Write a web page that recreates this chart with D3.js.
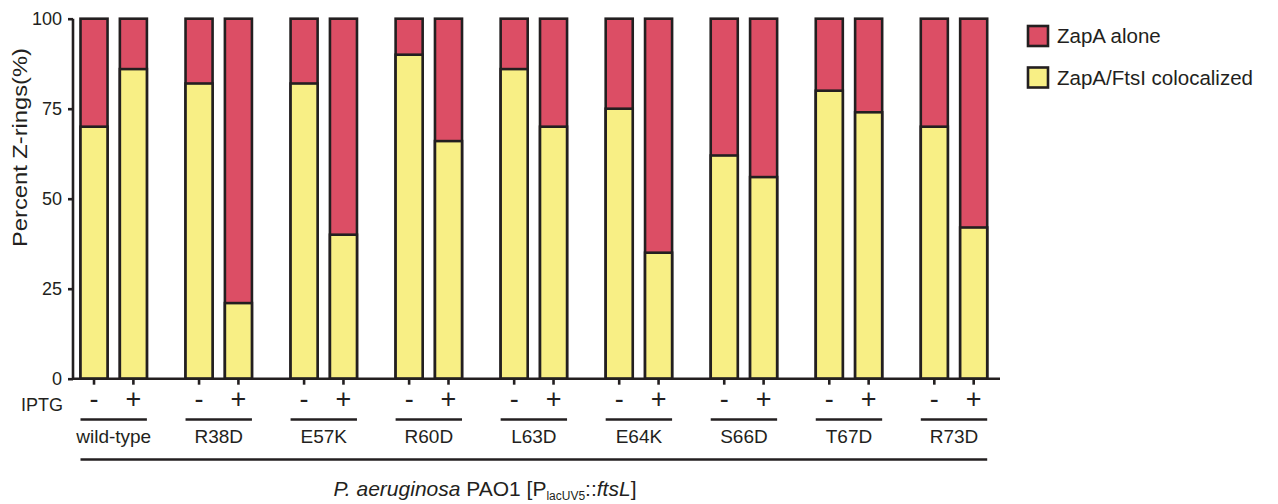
<!DOCTYPE html>
<html>
<head>
<meta charset="utf-8">
<script src="https://cdn.jsdelivr.net/npm/d3@7"></script>
<style>
  body { margin: 0; background: #fff; }
  text { font-family: "Liberation Sans", Arial, sans-serif; fill: #231f20; }
</style>
</head>
<body>
<div id="chart"></div>
<script>
// strains and IPTG conditions
var strains = ["wild-type", "R38D", "E57K", "R60D", "L63D", "E64K", "S66D", "T67D", "R73D"];
var iptg = ["-", "+"];

// percent ZapA/FtsI colocalized, [-IPTG, +IPTG] per strain
var colocMinus = [70, 82, 82, 90, 86, 75, 62, 80, 70];
var colocPlus = [86, 21, 40, 66, 70, 35, 56, 74, 42];

var yTicks = [0, 25, 50, 75, 100];
var seriesNames = ["ZapA alone", "ZapA/FtsI colocalized"];

var width = 1278, height = 504;
var ink = "#231f20";
var red = "#dc4e65", yellow = "#f8ef85";
var sw = 2.6;

var svg = d3.select("#chart").append("svg")
  .attr("width", width)
  .attr("height", height);

// scales
var y = d3.scaleLinear().domain([0, 100]).range([378.7, 18.7]);
var xGroup = d3.scalePoint().domain(strains).range([113.7, 954]);
var xSub = d3.scaleBand().domain(iptg).range([-33.2, 33.2]).paddingInner(0.313).paddingOuter(0);

// build rows
var rows = [];
strains.forEach(function(s, i) {
  rows.push({strain: s, cond: "-", coloc: colocMinus[i]});
  rows.push({strain: s, cond: "+", coloc: colocPlus[i]});
});

var bars = svg.append("g").selectAll("g")
  .data(rows)
  .enter()
  .append("g")
  .attr("transform", function(d) {
    return "translate(" + (xGroup(d.strain) + xSub(d.cond)) + ",0)";
  });

// red part (full bar 0..100), yellow on top of it from 0..coloc
bars.append("rect")
  .attr("x", 0)
  .attr("width", xSub.bandwidth())
  .attr("y", y(100))
  .attr("height", y(0) - y(100))
  .attr("fill", red)
  .attr("stroke", ink)
  .attr("stroke-width", sw);

bars.append("rect")
  .attr("x", 0)
  .attr("width", xSub.bandwidth())
  .attr("y", function(d) { return y(d.coloc); })
  .attr("height", function(d) { return y(0) - y(d.coloc); })
  .attr("fill", yellow)
  .attr("stroke", ink)
  .attr("stroke-width", sw);

// y axis
var yAxis = svg.append("g")
  .attr("transform", "translate(73,0)")
  .call(d3.axisLeft(y).tickValues(yTicks).tickSize(5).tickPadding(6).tickSizeOuter(0));
yAxis.select(".domain").attr("stroke", ink).attr("stroke-width", sw)
  .attr("d", "M0," + y(100) + "V" + y(0));
yAxis.selectAll(".tick line").attr("stroke", ink).attr("stroke-width", sw);
yAxis.selectAll(".tick text")
  .attr("font-size", "18px")
  .attr("font-family", "Liberation Sans, Arial, sans-serif")
  .attr("fill", ink)
  .attr("dy", "0.34em");

// x axis baseline
svg.append("line")
  .attr("x1", 73).attr("x2", 1000)
  .attr("y1", y(0)).attr("y2", y(0))
  .attr("stroke", ink).attr("stroke-width", sw);

// small ticks under each bar
bars.append("line")
  .attr("x1", xSub.bandwidth() / 2).attr("x2", xSub.bandwidth() / 2)
  .attr("y1", y(0)).attr("y2", y(0) + 6)
  .attr("stroke", ink).attr("stroke-width", sw);

// -/+ labels
bars.append("text")
  .attr("x", xSub.bandwidth() / 2)
  .attr("y", 408)
  .attr("text-anchor", "middle")
  .attr("font-size", "27px")
  .text(function(d) { return d.cond; });

svg.append("text")
  .attr("x", 63).attr("y", 410.5)
  .attr("text-anchor", "end")
  .attr("font-size", "18px")
  .text("IPTG");

// group underlines and names
var groups = svg.append("g").selectAll("g")
  .data(strains)
  .enter()
  .append("g")
  .attr("transform", function(d) { return "translate(" + xGroup(d) + ",0)"; });

groups.append("line")
  .attr("x1", xSub.range()[0]).attr("x2", xSub.range()[1])
  .attr("y1", 419.5).attr("y2", 419.5)
  .attr("stroke", ink).attr("stroke-width", sw);

groups.append("text")
  .attr("y", 443)
  .attr("text-anchor", "middle")
  .attr("font-size", "19px")
  .text(function(d) { return d; });

// long line for the whole strain background
svg.append("line")
  .attr("x1", xGroup(strains[0]) + xSub.range()[0])
  .attr("x2", xGroup(strains[strains.length - 1]) + xSub.range()[1])
  .attr("y1", 459.5).attr("y2", 459.5)
  .attr("stroke", ink).attr("stroke-width", sw);

// bottom title
var title = svg.append("text")
  .attr("x", 485).attr("y", 495.5)
  .attr("text-anchor", "middle")
  .attr("font-size", "21px");
title.append("tspan").attr("font-style", "italic").text("P. aeruginosa");
title.append("tspan").text(" PAO1 [P");
title.append("tspan").attr("font-size", "12px").attr("dy", 4).text("lacUV5");
title.append("tspan").attr("dy", -4).text("::");
title.append("tspan").attr("font-style", "italic").text("ftsL");
title.append("tspan").text("]");

// y axis title (reference glyphs run a bit wider than Arial, so stretch it)
svg.append("text")
  .attr("transform", "translate(27,147.5) rotate(-90)")
  .attr("text-anchor", "middle")
  .attr("font-size", "19.5px")
  .attr("textLength", 199)
  .attr("lengthAdjust", "spacingAndGlyphs")
  .text("Percent Z-rings(%)");

// legend
var legend = svg.append("g").attr("transform", "translate(1028,26)");
var lg = legend.selectAll("g")
  .data(seriesNames)
  .enter()
  .append("g")
  .attr("transform", function(d, i) { return "translate(0," + (i * 41.5) + ")"; });
lg.append("rect")
  .attr("width", 20).attr("height", 20)
  .attr("fill", function(d, i) { return i === 0 ? red : yellow; })
  .attr("stroke", ink).attr("stroke-width", sw);
lg.append("text")
  .attr("x", 29).attr("y", 10)
  .attr("dy", "0.35em")
  .attr("font-size", "20.5px")
  .text(function(d) { return d; });
</script>
</body>
</html>
